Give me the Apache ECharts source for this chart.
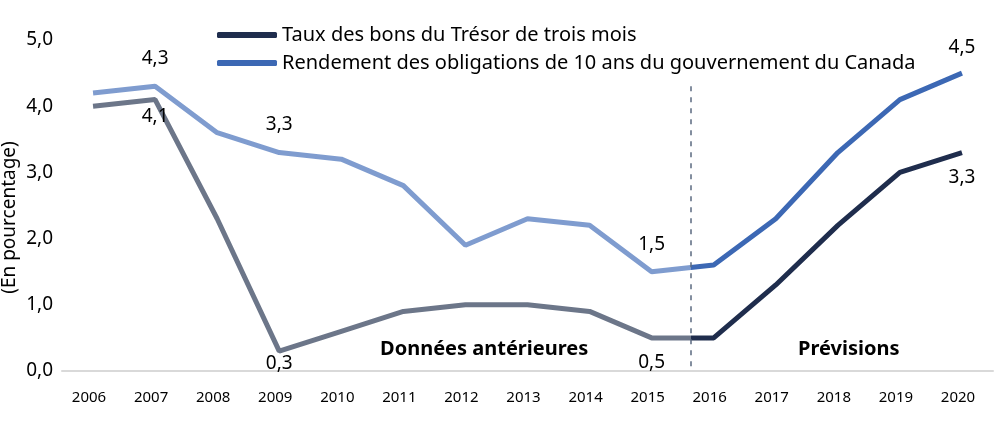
<!DOCTYPE html>
<html>
<head>
<meta charset="utf-8">
<script src="https://cdn.jsdelivr.net/npm/echarts@6/dist/echarts.min.js"></script>
<style>
  html, body { margin: 0; padding: 0; background: #fff; }
  #chart { width: 1007px; height: 430px; }
</style>
</head>
<body>
<div id="chart"></div>
<script>
// donnees
var years = [2006, 2007, 2008, 2009, 2010, 2011, 2012, 2013, 2014, 2015, 2016, 2017, 2018, 2019, 2020];
var billRates = [4.0, 4.1, 2.3, 0.3, 0.6, 0.9, 1.0, 1.0, 0.9, 0.5, 0.5, 1.3, 2.2, 3.0, 3.3];
var bondYields = [4.2, 4.3, 3.6, 3.3, 3.2, 2.8, 1.9, 2.3, 2.2, 1.5, 1.6, 2.3, 3.3, 4.1, 4.5];
var billLabelIdx = [1, 3, 9, 14];
var bondLabelIdx = [1, 3, 9, 14];
var seriesNames = ['Taux des bons du Trésor de trois mois',
                   'Rendement des obligations de 10 ans du gouvernement du Canada'];
var yTicks = [0, 1, 2, 3, 4, 5];
var splitYear = 2015.63;   // limite donnees anterieures / previsions
var splitTop = 4.3;

var FONT = 'Noto Sans';
var billHist = '#6c7689', billFcst = '#1f2d4d';
var bondHist = '#7f9ccf', bondFcst = '#3c68b4';

function fmt(v) { return v.toFixed(1).replace('.', ','); }

function buildData(vals, labelIdx, pos, dist) {
    return years.map(function (y, i) {
        var item = { value: [y, vals[i]] };
        var k = labelIdx.indexOf(i);
        if (k >= 0) {
            item.label = {
                show: true,
                position: pos,
                distance: dist[k],
                formatter: fmt(vals[i]),
                fontFamily: FONT,
                fontSize: 19,
                color: '#000',
                opacity: 1
            };
        }
        return item;
    });
}

var myChart = echarts.init(document.getElementById('chart'));
var option = {
    animation: false,
    textStyle: { fontFamily: FONT },
    grid: { left: 62, right: 14, top: 40, bottom: 59, containLabel: false, outerBoundsMode: 'none' },
    legend: {
        orient: 'vertical',
        left: 212,
        top: 19,
        itemWidth: 60,
        itemHeight: 6,
        itemGap: 6,
        icon: 'roundRect',
        textStyle: { fontFamily: FONT, fontSize: 20, color: '#000', lineHeight: 22 },
        data: [
            { name: seriesNames[0], itemStyle: { color: billFcst, opacity: 1 } },
            { name: seriesNames[1], itemStyle: { color: bondFcst, opacity: 1 } }
        ]
    },
    xAxis: {
        type: 'value',
        min: 2005.5,
        max: 2020.5,
        interval: 0.5,
        axisLine: { show: true, lineStyle: { color: '#d9d9d9', width: 2 } },
        axisTick: { show: false },
        splitLine: { show: false },
        axisLabel: {
            margin: 19,
            fontSize: 15,
            color: '#000',
            padding: [0, 8, 0, 0],
            formatter: function (v) {
                return (Math.abs(v - Math.round(v)) < 1e-6 && years.indexOf(Math.round(v)) >= 0) ? String(Math.round(v)) : '';
            }
        }
    },
    yAxis: {
        type: 'value',
        min: yTicks[0],
        max: yTicks[yTicks.length - 1],
        interval: 1,
        splitLine: { show: false },
        axisLine: { show: false },
        axisTick: { show: false },
        axisLabel: { margin: 9, fontSize: 19, color: '#000', formatter: fmt },
        name: '(En pourcentage)',
        nameLocation: 'middle',
        nameRotate: 90,
        nameGap: 43,
        nameMoveOverlap: false,
        nameTextStyle: { fontSize: 19, color: '#000', padding: [0, 24, 0, 0] }
    },
    visualMap: [
        {
            show: false, type: 'piecewise', seriesIndex: 0, dimension: 0,
            pieces: [{ min: 2005, lt: splitYear, color: billHist }, { gte: splitYear, max: 2021, color: billFcst }]
        },
        {
            show: false, type: 'piecewise', seriesIndex: 1, dimension: 0,
            pieces: [{ min: 2005, lt: splitYear, color: bondHist }, { gte: splitYear, max: 2021, color: bondFcst }]
        }
    ],
    series: [
        {
            name: seriesNames[0],
            type: 'line',
            symbol: 'circle',
            symbolSize: 2,
            itemStyle: { opacity: 0 },
            lineStyle: { width: 5 },
            data: buildData(billRates, billLabelIdx, 'bottom', [7, 2, 14, 15]),
            markLine: {
                silent: true,
                symbol: 'none',
                label: { show: false },
                lineStyle: { color: '#5b6a80', width: 1.5, type: [5, 6] },
                data: [[{ coord: [splitYear, splitTop] }, { coord: [splitYear, 0] }]]
            },
            z: 3
        },
        {
            name: seriesNames[1],
            type: 'line',
            symbol: 'circle',
            symbolSize: 2,
            itemStyle: { opacity: 0 },
            lineStyle: { width: 5 },
            data: buildData(bondYields, bondLabelIdx, 'top', [17, 17, 17, 15]),
            z: 3
        }
    ],
    graphic: [
        {
            type: 'text', left: 380, top: 339,
            style: { text: 'Données antérieures', font: 'bold 20px "Noto Sans"', fill: '#000' }
        },
        {
            type: 'text', left: 798, top: 339,
            style: { text: 'Prévisions', font: 'bold 20px "Noto Sans"', fill: '#000' }
        }
    ]
};
myChart.setOption(option, true);
window.addEventListener('resize', function () {
    myChart.resize();
});
</script>
</body>
</html>
